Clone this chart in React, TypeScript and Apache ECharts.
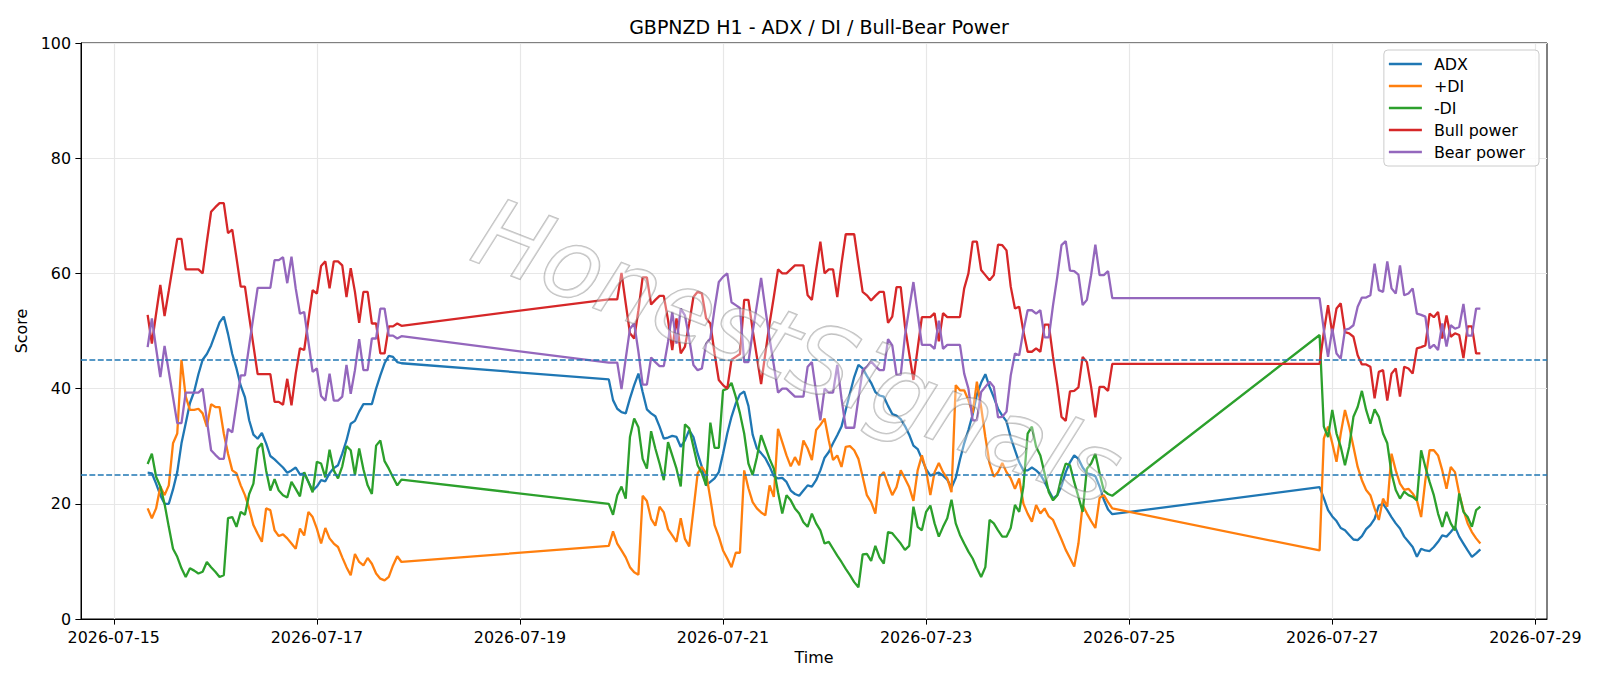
import React, { useEffect, useRef } from "react";
import * as echarts from "echarts";

// Hourly bars (H1). Hours counted from 2026-07-15 00:00; three trading blocks.
const blockStarts = [8, 117, 285];
const blockLengths = [61, 120, 39];

const adxWeek1 = [25.4, 25.3, 23.5, 21.5, 20, 20, 22.5, 25.5, 30.5, 34, 37.5, 39.5, 42.5, 45, 46, 47.5, 49.5, 51.5, 52.5, 49.5, 46, 43.5, 40.5, 38.5, 34.5, 32, 31.3, 32.3, 30.5, 28.3, 27.7, 27,
  26.3, 25.4, 25.8, 26.3, 25.1, 25.3, 23.8, 22.3, 23, 24.1, 23.9, 25.3, 26.2, 26.7, 28.7, 31, 33.9, 34.4, 36, 37.3, 37.3, 37.3, 40, 42.3, 44.4, 45.7, 45.5, 44.6, 44.4];
const adxWeek2 = [41.6, 38, 36.5, 35.9, 35.7, 38.3, 40.6, 42.6, 39.4, 36.4,
  35.7, 35.2, 33.4, 31.3, 31.5, 31.8, 31.6, 29.9, 31, 32.8,
  31.6, 28.7, 26.4, 23.2, 23.8, 24.4, 25.5, 28.7, 32.2, 35.1,
  37.4, 39, 39.5, 37, 32, 29.6, 28.8, 27.9, 26.5, 24.8,
  24.4, 24.5, 23.8, 22.3, 21.7, 21.4, 22.3, 23.2, 23, 24.1,
  25.8, 28, 29, 30.5, 31.9, 33.4, 36.3, 39.2, 42, 44.1,
  43.5, 42.2, 41, 39.4, 38.8, 38.6, 37, 35.6, 35.3, 34.7,
  33.5, 32, 30.1, 29.5, 27.8, 26, 24.9, 25.2, 25.4, 24.9,
  24.2, 22.8, 24.5, 27.7, 30.5, 32.8, 35.5, 39, 41, 42.5,
  40.3, 38.5, 36.5, 35.3, 34.3, 31.5, 29.3, 27.2, 25.8, 25.8,
  26.3, 25.8, 25.1, 23.8, 22.3, 20.9, 21.5, 23.1, 25.5, 27.2,
  28.4, 27.8, 26.3, 25.3, 25.1, 24.8, 23, 20.7, 19, 18.2];
const adxWeek3 = [22.9, 21, 18.9, 17.8, 17, 15.8, 15.4, 14.6, 13.8, 13.7, 14.4, 15.6, 16.3, 17.4, 19.7, 20, 18.9, 17.7, 16.6, 15.7,
  14.3, 13.4, 12.5, 10.8, 12.2, 11.9, 11.8, 12.5, 13.4, 14.5, 14.3, 15.1, 16, 14.3, 13.1, 11.9, 10.8, 11.4, 12.1];

const plusDiWeek1 = [19.2, 17.5, 19.2, 23, 21.5, 23.2, 30.5, 32.2, 45, 38.6, 36.3, 36.3, 36.5, 35.7, 33.4, 37.3, 36.8, 36.8, 32.2, 28.7, 25.8, 25.3, 23.2, 21.5, 19.2, 16.3, 14.8, 13.4, 19.2, 18.9, 15.4, 14.4,
  14.7, 14, 13.1, 12.2, 15.7, 14.5, 18.6, 17.7, 15.7, 13.1, 15.8, 14, 13.1, 12.5, 10.7, 9, 7.6, 11.3, 9.9, 9.3, 10.6, 9.6, 7.9, 7, 6.7, 7.3, 9.3, 10.9, 9.9];
const plusDiWeek2 = [12.7, 15.2, 13.1, 11.9, 10.7, 9, 8.1, 7.7, 21.4, 20.5,
  17.4, 16.2, 19.5, 18.5, 15.6, 14.5, 13.4, 17.5, 13.9, 12.6,
  18.9, 25.3, 26.4, 25.3, 20.9, 16.3, 14.3, 11.9, 10.5, 9,
  11.5, 11.5, 25.8, 22.7, 20.3, 19.2, 18.5, 18, 23.2, 21.2,
  33, 30.7, 28.4, 26.5, 28.1, 26.7, 31, 29.6, 27.6, 32.8,
  33.7, 34.8, 31, 27.6, 28.4, 26.4, 29.9, 30, 29.3, 27.8,
  24.7, 21.5, 20.3, 18.3, 24.7, 25.5, 23.4, 21.5, 22.9, 25.8,
  24.4, 22.9, 20.5, 25.8, 28.4, 25.8, 21.5, 25.5, 27.1, 25.5,
  24.4, 22, 40.6, 39.7, 39.7, 38, 35.7, 41.2, 36.8, 31.6,
  27, 24.7, 25.5, 27.1, 25.5, 24.4, 22.6, 24.4, 20, 18.3,
  16.9, 19.8, 18.3, 19.2, 17.8, 17.2, 15.5, 13.8, 12, 10.6,
  9.1, 13.1, 19.8, 18.3, 17, 15.8, 21, 21.5, 20.3, 19.2];
const plusDiWeek3 = [11.9, 31.3, 33.4, 30.5, 27.3, 32.2, 36.3, 33.4, 29.9, 26.4, 24.1, 22.4, 21.5, 19.2, 17.2, 20.9, 19.5, 28.7, 25.8, 23.5,
  22.4, 22.6, 21.8, 20.6, 17.7, 24.1, 29.3, 29.3, 28.4, 25.8, 22.6, 26.4, 25.5, 21.8, 18.9, 16.6, 15.1, 14, 13.1];

const minusDiWeek1 = [26.9, 28.7, 24.7, 23, 20, 16, 12.2, 10.8, 8.8, 7.3, 8.8, 8.4, 7.9, 8.2, 9.9, 9, 8.2, 7.3, 7.6, 17.5, 17.7, 16, 18.6, 18.1, 21.7, 23.5, 29.6, 30.5, 25.8, 22.3, 24.3, 22.3,
  21.5, 21.1, 23.8, 22.6, 21.3, 25.5, 23.8, 22, 27.3, 27, 24.6, 29.4, 25.8, 24.4, 26.5, 30, 29.3, 25, 29.6, 26, 23.2, 21.7, 30.1, 31, 27.4, 26.1, 24.6, 23.2, 24.2];
const minusDiWeek2 = [20, 18.1, 21.5, 23, 20.9, 31.6, 34.8, 33.3, 27.8, 26.1,
  32.6, 29.6, 27, 24.1, 30.7, 28.4, 26.1, 23, 33.8, 33.1,
  29.9, 26.7, 25.3, 23.2, 34.1, 29.7, 29.7, 39.7, 40, 41,
  38.6, 35.7, 32.2, 27, 25, 28.1, 31.9, 29.9, 27.8, 26.1,
  22, 18.3, 21.5, 20.6, 19.2, 18.3, 16.8, 16, 18.3, 16.6,
  15.4, 13.1, 13.4, 12.2, 11, 9.9, 8.7, 7.6, 6.4, 5.5,
  11.2, 11.3, 10.1, 12.7, 10.7, 9.6, 15.1, 14.9, 14, 13.1,
  12, 12.7, 19.5, 16, 15.4, 18.6, 19.7, 16.6, 14.3, 16,
  17.5, 20.7, 16.6, 14.6, 13.1, 11.7, 10.5, 8.8, 7.3, 9,
  17.2, 16.6, 15.4, 14.3, 14.3, 15.8, 19.8, 18.6, 23, 32.2,
  33.4, 29.9, 28.4, 25.3, 22, 20.6, 21.5, 24.7, 27, 26.7,
  23.8, 21.2, 18.6, 26.1, 27, 28.7, 25.3, 22.3, 21.7, 21.4];
const minusDiWeek3 = [49.3, 33.4, 31.6, 36.3, 32.2, 29.9, 26.7, 29.9, 35.1, 36.8, 39.6, 36.3, 33.9, 36.4, 35.1, 32.2, 30.5, 25.3, 22.4, 20.9,
  22.1, 21.5, 21.2, 20.6, 29.3, 26.4, 23.8, 21.5, 18.3, 16, 18.6, 16.6, 15.4, 21.8, 18.6, 17.7, 16, 18.9, 19.5];

const bullWeek1 = [52.8, 47.8, 53, 58, 52.6, 57, 61.5, 66, 66, 60.7, 60.7, 60.7, 60.7, 60, 65.5, 70.7, 71.5, 72.2, 72.2, 67, 67.6, 62.7, 57.7, 57.7, 52.5, 47.5, 42.5, 42.5, 42.5, 42.5, 37.7, 37.7,
  37.2, 41.7, 37.1, 42.6, 47, 46.7, 51.9, 57.1, 56.5, 61.3, 62.1, 57.4, 62.1, 62.1, 61.4, 55.9, 60.9, 56.8, 51.4, 56.8, 56.8, 51.3, 51.3, 46.1, 46.1, 50.8, 50.8, 51.3, 50.9];
const bullWeek2 = [55.5, 55.5, 55.5, 60.1, 54.8, 49.6, 48.7, 53.6, 59.3, 59.3,
  54.6, 55.4, 56.1, 56.1, 51.9, 46.7, 52.2, 46.1, 47.3, 51.3,
  55.9, 56.8, 56.5, 52.2, 51.3, 46.1, 41.5, 40.6, 40, 45,
  45.5, 46, 55.4, 55.4, 50.2, 45.5, 40.8, 46.1, 51.3, 55.9,
  60.7, 60, 60, 60.7, 61.4, 61.4, 61.4, 56.2, 55.4, 60.6,
  65.5, 60, 60.7, 60.7, 55.9, 61.7, 66.8, 66.8, 66.8, 61.7,
  56.8, 56.2, 55.3, 56.1, 56.8, 56.8, 51.4, 52.5, 57.6, 57.6,
  50.8, 46.1, 41.5, 47, 52.4, 52.4, 52.4, 53.1, 48.2, 53.1,
  52.4, 52.4, 52.4, 52.4, 57.4, 60, 65.5, 65.5, 60.6, 59.7,
  58.8, 59.7, 65, 64.9, 64, 57.7, 53.9, 54.2, 49.9, 46.4,
  46.4, 47, 46.4, 51.1, 51.1, 45.5, 40.6, 35.1, 34.4, 39.5,
  39.6, 40.2, 45.5, 44.6, 40.3, 35, 40.3, 40.3, 39.6, 44.3];
const bullWeek3 = [44.3, 49.8, 54.5, 49.6, 53.9, 54.8, 49.8, 49.6, 49, 45.8, 44.2, 44.2, 43.8, 38.3, 42.9, 43.2, 37.9, 42.6, 43.5, 38.6,
  43.8, 43.5, 42.6, 47, 47.2, 47.5, 53, 52.4, 53.3, 48.7, 52.7, 49, 49.6, 49.3, 45.3, 50.8, 50.8, 46.1, 46.1];

const bearWeek1 = [47.2, 52.2, 47, 42, 47.4, 43, 38.5, 34, 34, 39.3, 39.3, 39.3, 39.3, 40, 34.5, 29.3, 28.5, 27.8, 27.8, 33, 32.4, 37.3, 42.3, 42.3, 47.5, 52.5, 57.5, 57.5, 57.5, 57.5, 62.3, 62.3,
  62.8, 58.3, 62.9, 57.4, 53, 53.3, 48.1, 42.9, 43.5, 38.7, 37.9, 42.6, 37.9, 37.9, 38.6, 44.1, 39.1, 43.2, 48.6, 43.2, 43.2, 48.7, 48.7, 53.9, 53.9, 49.2, 49.2, 48.7, 49.1];
const bearWeek2 = [44.5, 44.5, 44.5, 39.9, 45.2, 50.4, 51.3, 46.4, 40.7, 40.7,
  45.4, 44.6, 43.9, 43.9, 48.1, 53.3, 47.8, 53.9, 52.7, 48.7,
  44.1, 43.2, 43.5, 47.8, 48.7, 53.9, 58.5, 59.4, 60, 55,
  54.5, 54, 44.6, 44.6, 49.8, 54.5, 59.2, 53.9, 48.7, 44.1,
  39.3, 40, 40, 39.3, 38.6, 38.6, 38.6, 43.8, 44.6, 39.4,
  34.5, 40, 39.3, 39.3, 44.1, 38.3, 33.2, 33.2, 33.2, 38.3,
  43.2, 43.8, 44.7, 43.9, 43.2, 43.2, 48.6, 47.5, 42.4, 42.4,
  49.2, 53.9, 58.5, 53, 47.6, 47.6, 47.6, 46.9, 51.8, 46.9,
  47.6, 47.6, 47.6, 47.6, 42.6, 40, 34.5, 34.5, 39.4, 40.3,
  41.2, 40.3, 35, 35.1, 36, 42.3, 46.1, 45.8, 50.1, 53.6,
  53.6, 53, 53.6, 48.9, 48.9, 54.5, 59.4, 64.9, 65.6, 60.5,
  60.4, 59.8, 54.5, 55.4, 59.7, 65, 59.7, 59.7, 60.4, 55.7];
const bearWeek3 = [55.7, 50.2, 45.5, 50.4, 46.1, 45.2, 50.2, 50.4, 51, 54.2, 55.8, 55.8, 56.2, 61.7, 57.1, 56.8, 62.1, 57.4, 56.5, 61.4,
  56.2, 56.5, 57.4, 53, 52.8, 52.5, 47, 47.6, 46.7, 51.3, 47.3, 51, 50.4, 50.7, 54.7, 49.2, 49.2, 53.9, 53.9];

const dateTicks = ["2026-07-15", "2026-07-17", "2026-07-19", "2026-07-21", "2026-07-23", "2026-07-25", "2026-07-27", "2026-07-29"];
const thresholds = [25, 45];

const hours: number[] = [];
blockStarts.forEach((s, b) => {
  for (let i = 0; i < blockLengths[b]; i++) hours.push(s + i);
});
const tickHours = dateTicks.map((d) => {
  const base = Date.UTC(2026, 6, 15);
  const [y, m, dd] = d.split("-").map(Number);
  return (Date.UTC(y, m - 1, dd) - base) / 3600000;
});

const FONT = "DejaVu Sans";
const pair = (vals: number[]) => hours.map((h, i) => [h, vals[i]]);

export default function App() {
  const ref = useRef<HTMLDivElement>(null);
  useEffect(() => {
    if (!ref.current) return;
    const chart = echarts.init(ref.current, null, { renderer: "svg" });
    const mkLine = (name: string, color: string, vals: number[], extra: any = {}) => ({
      name,
      type: "line",
      data: pair(vals),
      showSymbol: false,
      symbol: "none",
      lineStyle: { color, width: 2.3 },
      itemStyle: { color },
      emphasis: { disabled: true },
      ...extra,
    });
    chart.setOption({
      animation: false,
      backgroundColor: "#ffffff",
      title: {
        text: "GBPNZD H1 - ADX / DI / Bull-Bear Power",
        left: 814,
        textAlign: "center",
        top: 12,
        textStyle: { fontFamily: FONT, fontSize: 19, fontWeight: "normal", color: "#000" },
      },
      legend: {
        orient: "vertical",
        right: 61,
        top: 50,
        icon: "rect",
        itemWidth: 33,
        itemHeight: 2.4,
        itemGap: 6,
        padding: [6, 14, 6, 5],
        backgroundColor: "rgba(255,255,255,0.85)",
        borderColor: "#cccccc",
        borderWidth: 1,
        borderRadius: 4,
        textStyle: { fontFamily: FONT, fontSize: 15.9, color: "#000", padding: [0, 0, 0, 7], lineHeight: 16 },
        data: ["ADX", "+DI", "-DI", "Bull power", "Bear power"],
      },
      grid: { left: 81, top: 43, width: 1466, height: 576, show: true, borderColor: "#000", borderWidth: 1, backgroundColor: "transparent" },
      xAxis: {
        type: "value",
        min: -7.75,
        max: 338.75,
        name: "Time",
        nameLocation: "middle",
        nameGap: 29,
        nameTextStyle: { fontFamily: FONT, fontSize: 15.9, color: "#000" },
        axisLine: { show: true, onZero: false, lineStyle: { color: "#000", width: 1 } },
        axisTick: { show: true, length: 5.6, lineStyle: { color: "#000", width: 1 }, customValues: tickHours },
        axisLabel: {
          customValues: tickHours,
          margin: 10,
          fontFamily: FONT,
          fontSize: 15.9,
          color: "#000",
          formatter: (v: number) => {
            const i = tickHours.indexOf(v);
            return i >= 0 ? dateTicks[i] : "";
          },
        },
        splitLine: { show: true, lineStyle: { color: "#e7e7e7", width: 1.2 } },
      },
      yAxis: {
        type: "value",
        min: 0,
        max: 100,
        interval: 20,
        name: "Score",
        nameLocation: "middle",
        nameGap: 46,
        nameTextStyle: { fontFamily: FONT, fontSize: 15.9, color: "#000" },
        axisLine: { show: true, onZero: false, lineStyle: { color: "#000", width: 1 } },
        axisTick: { show: true, length: 5.6, lineStyle: { color: "#000", width: 1 } },
        axisLabel: { margin: 10, fontFamily: FONT, fontSize: 15.9, color: "#000" },
        splitLine: { show: true, lineStyle: { color: "#e7e7e7", width: 1.2 } },
      },
      series: [
        mkLine("ADX", "#1f77b4", [...adxWeek1, ...adxWeek2, ...adxWeek3]),
        mkLine("+DI", "#ff7f0e", [...plusDiWeek1, ...plusDiWeek2, ...plusDiWeek3]),
        mkLine("-DI", "#2ca02c", [...minusDiWeek1, ...minusDiWeek2, ...minusDiWeek3]),
        mkLine("Bull power", "#d62728", [...bullWeek1, ...bullWeek2, ...bullWeek3]),
        mkLine("Bear power", "#9467bd", [...bearWeek1, ...bearWeek2, ...bearWeek3], {
          markLine: {
            silent: true,
            symbol: "none",
            label: { show: false },
            lineStyle: { color: "#1f77b4", width: 1.6, type: [5.9, 2.5] },
            data: thresholds.map((t) => ({ yAxis: t })),
          },
        }),
      ],
      graphic: [
        {
          type: "text",
          x: 798,
          y: 352,
          rotation: -0.37,
          z: 100,
          silent: true,
          style: {
            text: "HonestSignals",
            textAlign: "center",
            textVerticalAlign: "middle",
            fontFamily: FONT,
            fontStyle: "italic",
            fontSize: 96,
            fill: "rgba(255,255,255,0.35)",
            stroke: "rgba(110,110,110,0.45)",
            lineWidth: 1.6,
          },
        },
      ],
    });
    return () => chart.dispose();
  }, []);
  return <div ref={ref} style={{ width: 1600, height: 686, position: "absolute", left: 0, top: 0 }} />;
}
